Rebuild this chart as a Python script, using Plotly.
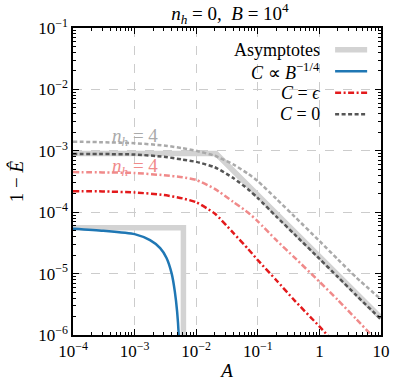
import plotly.graph_objects as go

# sample points for the smooth curves
A = [1e-4, 3e-4, 1e-3, 3e-3, 6e-3, 1e-2, 0.02, 0.04, 0.07, 0.1, 0.2, 0.4, 1, 2, 4, 10]
c0_nh0 = [8.9e-4, 8.85e-4, 8.7e-4, 8.0e-4, 7.2e-4, 6.6e-4, 5.4e-4, 3.6e-4, 2.35e-4, 1.7e-4,
          8.5e-5, 4.3e-5, 1.75e-5, 8.8e-6, 4.4e-6, 1.8e-6]
c0_nh4 = [1.41e-3, 1.38e-3, 1.33e-3, 1.22e-3, 1.1e-3, 1.0e-3, 8.3e-4, 6.0e-4, 4.2e-4, 3.2e-4,
          1.65e-4, 8.4e-5, 3.4e-5, 1.7e-5, 8.6e-6, 3.8e-6]
ceps_nh0 = [2.2e-4, 2.18e-4, 2.1e-4, 1.9e-4, 1.68e-4, 1.45e-4, 9.5e-5, 4.6e-5, 2.5e-5, 1.66e-5,
            7.8e-6, 3.6e-6, 1.38e-6, 6.4e-7, 3.0e-7, 1.1e-7]
ceps_nh4 = [4.5e-4, 4.45e-4, 4.35e-4, 4.0e-4, 3.7e-4, 3.35e-4, 2.4e-4, 1.47e-4, 9.8e-5, 7.1e-5,
            3.5e-5, 1.8e-5, 7.4e-6, 3.7e-6, 1.8e-6, 6.8e-7]

A_blue = [1e-4, 3.1e-4, 1e-3, 1.78e-3, 2.6e-3, 3.3e-3, 4.0e-3, 4.5e-3, 4.9e-3, 5.2e-3, 5.3e-3]
cB_nh0 = [5.4e-5, 5.0e-5, 4.4e-5, 3.5e-5, 2.6e-5, 1.8e-5, 1.0e-5, 5.1e-6, 2.4e-6, 1.0e-6, 5e-7]

# asymptotes
A_asym1 = [1e-4, 0.021, 10]
E_asym1 = [9.0e-4, 9.0e-4, 1.9e-6]
A_asym2 = [1e-4, 6.2e-3, 6.2e-3]
E_asym2 = [5.6e-5, 5.6e-5, 1e-7]

x_ticks = [1e-4, 1e-3, 1e-2, 1e-1, 1, 10]
x_labels = ["10<sup>−4</sup>", "10<sup>−3</sup>", "10<sup>−2</sup>", "10<sup>−1</sup>", "1", "10"]
y_ticks = [1e-6, 1e-5, 1e-4, 1e-3, 1e-2, 1e-1]
y_labels = ["10<sup>−6</sup>", "10<sup>−5</sup>", "10<sup>−4</sup>", "10<sup>−3</sup>",
            "10<sup>−2</sup>", "10<sup>−1</sup>"]

FONT = "Liberation Serif"
BAND = "#d3d3d3"
BLUE = "#1f77b4"
RED = "#e31a1c"
LRED = "#f08a8a"
DGRAY = "#555555"
LGRAY = "#aaaaaa"
DASH = "4px,2.5px"
DASHDOT = "6px,2.5px,2px,2.5px"

fig = go.Figure()


def add_line(x, y, color, width, dash="solid", spline=True):
    fig.add_trace(go.Scatter(
        x=x, y=y, mode="lines",
        line=dict(color=color, width=width, dash=dash,
                  shape="spline" if spline else "linear", smoothing=0.6),
        showlegend=False, hoverinfo="skip"))


add_line(A_asym1, E_asym1, BAND, 5.5, spline=False)
add_line(A_asym2, E_asym2, BAND, 5.5, spline=False)
add_line(A_blue, cB_nh0, BLUE, 2.5)
add_line(A, ceps_nh4, LRED, 2.5, DASHDOT)
add_line(A, ceps_nh0, RED, 2.5, DASHDOT)
add_line(A, c0_nh4, LGRAY, 2.5, DASH)
add_line(A, c0_nh0, DGRAY, 2.5, DASH)

# hand-made legend: text on the left, sample on the right
legend_items = [
    ("Asymptotes", BAND, 5.5, "solid"),
    ("<i>C</i> ∝ <i>B</i><sup>−1/4</sup>", BLUE, 2.5, "solid"),
    ("<i>C</i> = <i>ϵ</i>", RED, 2.5, DASHDOT),
    ("<i>C</i> = 0", DGRAY, 2.5, DASH),
]
for i, (label, color, width, dash) in enumerate(legend_items):
    yp = 0.929 - i * 0.07
    fig.add_annotation(x=0.81, y=yp, xref="paper", yref="paper", text=label,
                       showarrow=False, xanchor="right", yanchor="middle",
                       font=dict(family=FONT, size=18, color="black"))
    fig.add_shape(type="line", xref="paper", yref="paper", x0=0.851, x1=0.955, y0=yp, y1=yp,
                  line=dict(color=color, width=width, dash=dash))

fig.add_annotation(x=-3.0, y=-2.78, text="<i>n<sub>h</sub></i> = 4", showarrow=False,
                   font=dict(family=FONT, size=19, color=LGRAY))
fig.add_annotation(x=-3.0, y=-3.27, text="<i>n<sub>h</sub></i> = 4", showarrow=False,
                   font=dict(family=FONT, size=19, color=LRED))

minor_vals = [k * 10.0 ** e for e in range(-6, 2) for k in range(2, 10)]
axis_common = dict(
    type="log", showline=True, linecolor="black", linewidth=1.5, mirror="allticks",
    ticks="inside", ticklen=6, tickwidth=1, tickcolor="black", automargin=False,
    showgrid=True, gridcolor="#cccccc", griddash="dash", gridwidth=0.8,
    zeroline=False, tickfont=dict(family=FONT, size=17, color="black"),
    minor=dict(ticks="inside", ticklen=3, tickwidth=0.8, tickcolor="black",
               tickvals=minor_vals, showgrid=False),
)

fig.update_layout(
    width=407, height=381,
    margin=dict(l=73, r=26, t=28, b=46),
    plot_bgcolor="white", paper_bgcolor="white",
    title=dict(text="<i>n<sub>h</sub></i> = 0,  <i>B</i> = 10<sup>4</sup>",
               x=0.565, xanchor="center", y=0.982, yanchor="top",
               font=dict(family=FONT, size=19, color="black")),
    xaxis=dict(axis_common, range=[-4, 1], tickvals=x_ticks, ticktext=x_labels,
               title=dict(text="<i>A</i>", font=dict(family=FONT, size=19, color="black"),
                          standoff=12)),
    yaxis=dict(axis_common, range=[-6, -1], tickvals=y_ticks, ticktext=y_labels,
               title=dict(text="1 − <i>Ê</i>", font=dict(family=FONT, size=19, color="black"),
                          standoff=10)),
    showlegend=False,
)

# drop the default page margin so the figure sits at the window's corner
fig.write_html("out.html", config={"displayModeBar": False},
               post_script="document.body.style.margin='0';")
